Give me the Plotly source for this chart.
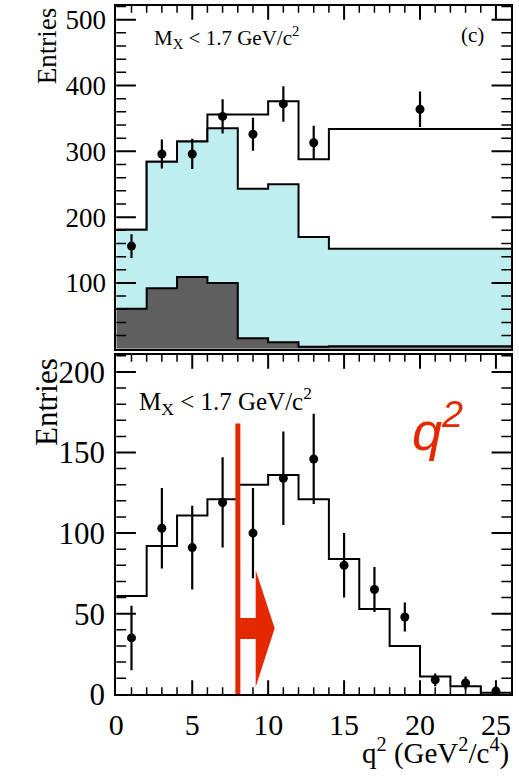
import plotly.graph_objects as go

# ---------------- data ----------------
# top panel (c)
edges_top = [0, 2, 4, 6, 8, 10, 12, 14, 26]
total_top = [181, 284, 315, 356, 356, 376, 288, 334]
cyan_top = [181, 284, 315, 335, 243, 250, 170, 152]
dark_top = [61, 92, 109, 100, 16, 10, 3, 4]
pts_x_top = [1, 3, 5, 7, 9, 11, 13, 20]
pts_y_top = [156, 296, 296, 353, 326, 372, 313, 364]
err_top = [18, 22, 23, 26, 25, 27, 26, 27]

# bottom panel
edges_bot = [0, 2, 4, 6, 8, 10, 12, 14, 16, 18, 20, 22, 24, 26]
mc_bot = [61, 92, 111, 121, 130, 136, 121, 84, 53, 30, 11, 5, 1]
pts_x_bot = [1, 3, 5, 7, 9, 11, 13, 15, 17, 19, 21, 23, 25]
pts_y_bot = [35, 103, 91, 119, 100, 134, 146, 80, 65, 48, 9, 7, 2]
err_bot = [20, 25, 26, 28, 28, 29, 28, 20, 14, 9, 4, 4, 2]

top_yticks = [100, 200, 300, 400, 500]
bot_yticks = [0, 50, 100, 150, 200]
x_ticks = [0, 5, 10, 15, 20, 25]
top_ymax, bot_ymax, x_max = 521, 210.7, 26
top_ystep, top_yminor = 100, 20
bot_ystep, bot_yminor = 50, 10
x_step, x_minor = 5, 1
q2_cut = 8

# ---------------- style ----------------
W, H = 519, 782
SERIF = "Liberation Serif"
SANS = "Liberation Sans"
CYAN = "rgb(191,238,240)"
DARK = "rgb(95,95,95)"
RED = "rgb(228,40,0)"

PLOT_L, PLOT_R = 110, 511
TOP_T, TOP_B = 6, 357
BOT_T, BOT_B = 363, 710.7


def step(edges, vals):
    return list(edges), list(vals) + [vals[-1]]


def px_x(p):
    return p / W


def px_y(p):
    return 1 - p / H


fig = go.Figure()

# top panel histograms
x, y = step(edges_top, total_top)
fig.add_trace(go.Scatter(x=x, y=y, mode="lines", line=dict(shape="hv", color="black", width=2),
                         xaxis="x", yaxis="y", showlegend=False, hoverinfo="skip"))
x, y = step(edges_top, cyan_top)
fig.add_trace(go.Scatter(x=x, y=y, mode="lines", fill="tozeroy", fillcolor=CYAN,
                         line=dict(shape="hv", color="black", width=2),
                         xaxis="x", yaxis="y", showlegend=False, hoverinfo="skip"))
x, y = step(edges_top, dark_top)
fig.add_trace(go.Scatter(x=x, y=y, mode="lines", fill="tozeroy", fillcolor=DARK,
                         line=dict(shape="hv", color="black", width=2),
                         xaxis="x", yaxis="y", showlegend=False, hoverinfo="skip"))
fig.add_trace(go.Scatter(x=pts_x_top, y=pts_y_top, mode="markers",
                         marker=dict(color="black", size=9),
                         error_y=dict(type="data", array=err_top, color="black", thickness=2.2, width=0),
                         xaxis="x", yaxis="y", showlegend=False))

# bottom panel
x, y = step(edges_bot, mc_bot)
fig.add_trace(go.Scatter(x=x, y=y, mode="lines", line=dict(shape="hv", color="black", width=2),
                         xaxis="x2", yaxis="y2", showlegend=False, hoverinfo="skip"))
fig.add_trace(go.Scatter(x=pts_x_bot, y=pts_y_bot, mode="markers",
                         marker=dict(color="black", size=9),
                         error_y=dict(type="data", array=err_bot, color="black", thickness=2.2, width=0),
                         xaxis="x2", yaxis="y2", showlegend=False))


# ---------------- tick marks (ROOT style: inside, on all four sides) ----------------
# drawn as line-shaped markers centred on the frame; the half outside is clipped away
def is_major(v, major):
    return abs(v / major - round(v / major)) < 1e-9


def tick_markers(xa, ya, xs, ys, symbol, size, width):
    fig.add_trace(go.Scatter(x=xs, y=ys, mode="markers", cliponaxis=True,
                             marker=dict(symbol=symbol, size=size, color="black",
                                         line=dict(color="black", width=width)),
                             xaxis=xa, yaxis=ya, showlegend=False, hoverinfo="skip"))


def add_ticks(xa, ya, ymax, ystep, yminor, x_sides):
    for major in (True, False):
        xs, ys = [], []
        v = yminor
        while v < ymax - 1e-9:
            if is_major(v, ystep) == major:
                xs += [0, x_max]
                ys += [v, v]
            v += yminor
        tick_markers(xa, ya, xs, ys, "line-ew", 28 if major else 14, 2 if major else 1.5)
        xs, ys = [], []
        v = x_minor
        while v < x_max - 1e-9:
            if is_major(v, x_step) == major:
                for side in x_sides:
                    xs.append(v)
                    ys.append(ymax if side == "top" else 0)
            v += x_minor
        tick_markers(xa, ya, xs, ys, "line-ns", 20 if major else 10, 2 if major else 1.5)


add_ticks("x", "y", top_ymax, top_ystep, top_yminor, ("top",))
add_ticks("x2", "y2", bot_ymax, bot_ystep, bot_yminor, ("top", "bottom"))

# ---------------- axes ----------------
top_dom = [px_y(TOP_B), px_y(TOP_T)]
bot_dom = [px_y(BOT_B), px_y(BOT_T)]
x_dom = [px_x(PLOT_L), px_x(PLOT_R)]

base = dict(showgrid=False, zeroline=False, showline=True, linecolor="black", linewidth=2,
            mirror=True, ticks="", ticklabelstandoff=3)

fig.update_layout(
    width=W, height=H, margin=dict(l=0, r=0, t=0, b=0),
    paper_bgcolor="white", plot_bgcolor="white",
    xaxis=dict(domain=x_dom, range=[0, x_max], anchor="y", showticklabels=False, **base),
    yaxis=dict(domain=top_dom, range=[0, top_ymax], anchor="x", tickmode="array", tickvals=top_yticks,
               tickfont=dict(family=SERIF, size=27, color="black"), **base),
    xaxis2=dict(domain=x_dom, range=[0, x_max], anchor="y2", tickmode="array", tickvals=x_ticks,
                tickfont=dict(family=SERIF, size=30, color="black"), **base),
    yaxis2=dict(domain=bot_dom, range=[0, bot_ymax], anchor="x2", tickmode="array", tickvals=bot_yticks,
                tickfont=dict(family=SERIF, size=31, color="black"), **base),
)

# red cut arrow (bottom panel), built from the cut value
c = q2_cut
arrow_path = (f"M {c - 0.16},0 L {c - 0.16},168 L {c + 0.17},168 L {c + 0.17},47.3 "
              f"L {c + 1.18},47.3 L {c + 1.18},77 L {c + 2.43},41 L {c + 1.18},4.5 "
              f"L {c + 1.18},34.4 L {c + 0.17},34.4 L {c + 0.17},0 Z")
fig.add_shape(type="path", xref="x2", yref="y2", path=arrow_path,
              fillcolor=RED, line=dict(color=RED, width=0), layer="above")

# ---------------- texts ----------------
ann = []
ann.append(dict(text="M<sub>X</sub> &lt; 1.7 GeV/c<sup>2</sup>", x=px_x(146), y=px_y(38),
                xanchor="left", yanchor="middle", font=dict(family=SERIF, size=21, color="black")))
ann.append(dict(text="(c)", x=px_x(485), y=px_y(36), xanchor="right", yanchor="middle",
                font=dict(family=SERIF, size=21, color="black")))
ann.append(dict(text="M<sub>X</sub> &lt; 1.7 GeV/c<sup>2</sup>", x=px_x(131), y=px_y(410),
                xanchor="left", yanchor="middle", font=dict(family=SERIF, size=25, color="black")))
ann.append(dict(text="<i>q<sup>2</sup></i>", x=px_x(408), y=px_y(437),
                xanchor="left", yanchor="middle", font=dict(family=SANS, size=54, color=RED)))
ann.append(dict(text="Entries", x=px_x(39), y=px_y(6), xanchor="center", yanchor="top",
                textangle=-90, font=dict(family=SERIF, size=27, color="black")))
ann.append(dict(text="Entries", x=px_x(39), y=px_y(364), xanchor="center", yanchor="top",
                textangle=-90, font=dict(family=SERIF, size=31, color="black")))
ann.append(dict(text="q<sup>2</sup> (GeV<sup>2</sup>/c<sup>4</sup>)", x=px_x(511), y=px_y(769),
                xanchor="right", yanchor="middle", font=dict(family=SERIF, size=29, color="black")))
for a in ann:
    a.update(xref="paper", yref="paper", showarrow=False)
fig.update_layout(annotations=ann)

fig.write_html("out.html")
